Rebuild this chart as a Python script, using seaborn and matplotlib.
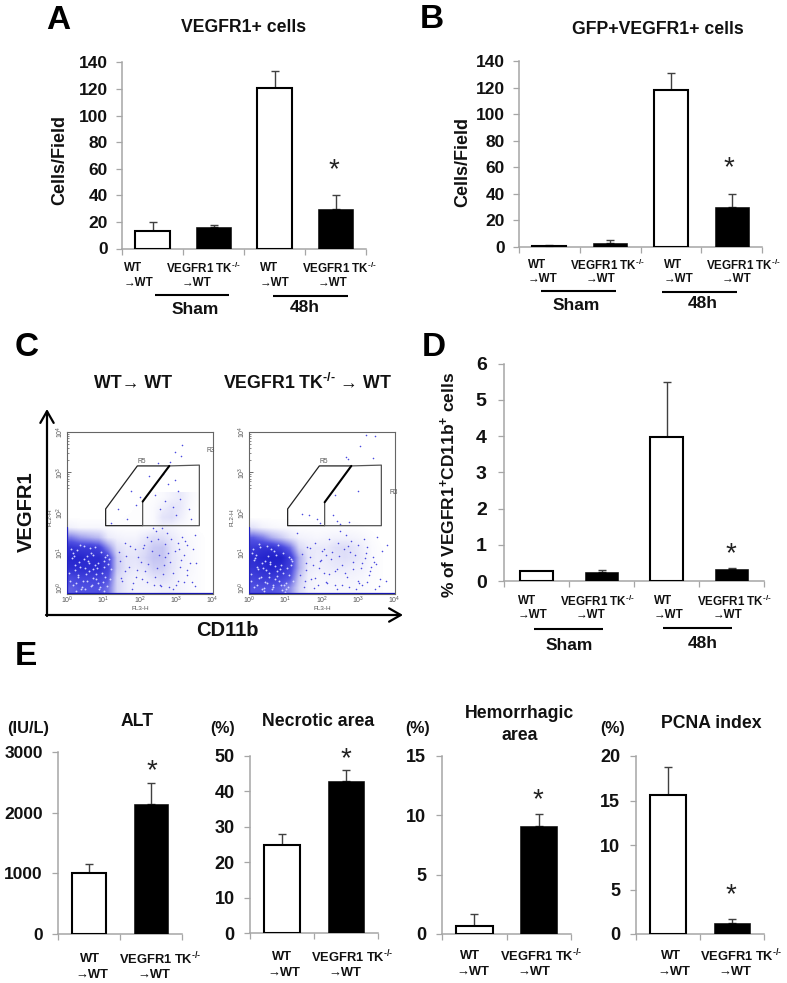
import numpy as np
import pandas as pd
import seaborn as sns
import matplotlib
matplotlib.use("Agg")
import matplotlib.pyplot as plt
from matplotlib.colors import LinearSegmentedColormap

sns.set_theme(style="white")
plt.rcParams["font.family"] = ["Liberation Sans", "DejaVu Sans"]
plt.rcParams["mathtext.fontset"] = "custom"
plt.rcParams["mathtext.rm"] = "Liberation Sans:bold"
plt.rcParams["mathtext.bf"] = "Liberation Sans:bold"
plt.rcParams["mathtext.default"] = "rm"

W, H = 787, 983
GRAY = "#a6a6a6"
ERR = "#404040"

groups4 = ["WT Sham", "KO Sham", "WT 48h", "KO 48h"]
groups2 = ["WT", "KO"]
colors4 = ["white", "black", "white", "black"]
colors2 = ["white", "black"]

a_vals = [12.8, 16, 121, 30]
a_tops = [20, 18, 133.5, 40]
b_vals = [1, 3, 118, 30]
b_tops = [1.3, 5, 131, 40]
d_vals = [0.27, 0.25, 3.97, 0.33]
d_tops = [0.27, 0.3, 5.5, 0.35]
alt_vals = [1000, 2140]
alt_tops = [1150, 2490]
nec_vals = [25, 43]
nec_tops = [28, 46]
hem_vals = [0.7, 9.1]
hem_tops = [1.65, 10.15]
pcna_vals = [15.6, 1.2]
pcna_tops = [18.8, 1.65]

cat_ko = r"VEGFR1 TK$^{\text{-/-}}$"

# Flow density, 16 columns by 10 rows: 0.25 decade cells, bottom row first
left_density = [
    [.55, .60, .60, .60, .50, .15, .08, .05, .05, .05, .06, .06, .04, .02, .01, 0],
    [.65, .70, .70, .70, .60, .15, .08, .05, .06, .10, .12, .08, .04, .02, .01, 0],
    [.85, .85, .85, .85, .70, .20, .10, .08, .10, .18, .18, .10, .05, .03, .01, 0],
    [.90, .90, .85, .85, .70, .20, .10, .10, .15, .22, .22, .10, .06, .03, .01, 0],
    [.80, .75, .75, .70, .40, .12, .08, .08, .12, .20, .22, .10, .05, .03, .01, 0],
    [.45, .35, .30, .25, .08, .05, .04, .04, .08, .13, .12, .08, .04, .02, .01, 0],
    [.05, .03, .03, .03, .02, .01, .01, .01, .01, .02, .06, .04, .02, .01, 0, 0],
    [0, 0, 0, 0, 0, 0, .005, .005, .005, .02, .10, .12, .06, .01, 0, 0],
    [0, 0, 0, 0, 0, 0, 0, .005, .005, .02, .06, .10, .08, .02, 0, 0],
    [0, 0, 0, 0, 0, 0, 0, 0, 0, .01, .02, .05, .08, .03, 0, 0],
]
right_density = [
    [.60, .60, .60, .55, .40, .15, .05, .03, .03, .03, .03, .03, .02, .01, .005, 0],
    [.70, .75, .75, .70, .60, .20, .06, .03, .04, .04, .04, .04, .03, .01, .005, 0],
    [.80, .85, .90, .85, .70, .30, .08, .06, .07, .08, .08, .06, .05, .02, .005, 0],
    [.85, .90, .95, .95, .75, .30, .10, .07, .08, .10, .12, .10, .07, .02, .005, 0],
    [.75, .80, .80, .70, .50, .15, .08, .08, .08, .12, .13, .10, .06, .02, .005, 0],
    [.55, .45, .30, .20, .10, .05, .04, .03, .04, .05, .05, .04, .03, .01, 0, 0],
    [.10, .05, .03, .02, .02, .01, .01, .01, .01, .01, .01, .01, .005, 0, 0, 0],
    [0] * 16,
    [0] * 16,
    [0] * 16,
]
left_px = [3.15, 2.96, 2.83, 3.12, 2.49, 2.62, 2.78, 2.26, 2.4, 3.05, 3.1, 2.9, 2.7, 2.55, 3.0,
           1.4, 1.65, 1.9, 1.2, 1.75, 2.0, 2.95, 3.35, 3.4, 3.5, 3.25, 2.2, 2.35, 2.45, 2.6,
           2.75, 2.85, 3.05, 3.15, 3.3, 1.6, 1.85, 2.1, 2.3, 2.5, 2.7, 2.95, 3.2, 3.45,
           1.45, 1.7, 1.95, 2.15, 2.4, 2.65, 2.9, 3.1, 3.3, 3.55, 1.5, 1.8, 2.05, 2.55, 2.8, 3.05,
           1.42, 1.58, 1.72, 1.88, 2.02, 2.18, 2.32, 2.48, 2.58, 2.68, 2.82, 2.98, 3.12, 3.28, 3.42,
           1.48, 1.62, 1.78, 1.92, 2.08, 2.22, 2.38, 2.52, 2.62, 2.78, 2.92, 3.08, 3.22, 3.38, 3.52]
left_py = [3.69, 3.5, 3.25, 3.4, 3.23, 2.95, 2.7, 2.9, 2.45, 2.55, 2.35, 2.15, 2.3, 2.1, 1.95,
           2.1, 1.85, 2.2, 1.75, 2.55, 2.4, 2.8, 2.1, 1.85, 1.45, 1.3, 1.4, 1.62, 1.55, 1.62,
           1.5, 1.35, 1.25, 1.4, 1.2, 1.25, 1.1, 1.2, 1.3, 1.35, .9, 1.05, .95, 1.1,
           .8, .65, .9, .55, .4, .7, .5, .65, .45, .75, .3, .25, .35, .2, .15, .3,
           1.02, .55, 1.18, .42, .78, .28, 1.05, .62, .18, 1.22, .78, .22, .82, .58, .28,
           .38, .92, .12, .58, 1.12, .72, .2, .95, .48, 1.0, .1, 1.1, .28, .75, .18]
right_px = [3.2, 3.45, 3.05, 2.65, 2.72, 3.4, 2.35, 1.45, 1.65, 1.85, 1.95, 2.3, 2.4, 2.5, 2.75,
            3.0, 1.3, 2.5, 2.65, 3.15, 3.5, 3.8, 2.2, 2.45, 2.8, 3.0, 3.25, 1.6, 1.8, 2.0,
            2.1, 2.6, 2.9, 3.2, 3.4, 3.65, 1.55, 1.75, 1.95, 2.25, 2.55, 2.85, 3.1, 3.35,
            1.4, 1.7, 2.05, 2.35, 2.7, 3.0, 3.3, 3.6, 1.5, 1.9, 2.15, 2.75, 3.1, 3.45, 3.75, 2.4,
            1.44, 1.56, 1.68, 1.82, 1.98, 2.12, 2.28, 2.42, 2.56, 2.72, 2.86, 3.02, 3.18, 3.32, 3.48,
            1.52, 1.66, 1.78, 1.92, 2.06, 2.2, 2.36, 2.48, 2.62, 2.78, 2.94, 3.08, 3.24, 3.42, 3.58]
right_py = [3.92, 3.9, 3.65, 3.37, 3.33, 3.35, 2.45, 1.98, 1.95, 1.85, 1.75, 1.95, 1.8, 1.72, 1.78,
            2.55, 1.5, 1.55, 1.45, 1.35, 1.4, 1.2, 1.35, 1.25, 1.3, 1.2, 1.15, 1.15, 1.25, 1.05,
            .95, 1.1, .95, 1.0, .9, 1.05, .75, .7, .8, .85, .7, .6, .75, .65,
            .45, .35, .5, .55, .4, .3, .45, .35, .15, .2, .25, .15, .2, .1, .3, .1,
            .98, .58, 1.12, .38, .82, .28, 1.02, .6, .22, 1.18, .78, .25, .88, .55, .72,
            .32, .9, .14, .62, 1.1, .48, .2, .92, .52, 1.02, .12, .62, .28, .78, .18]
left_speck_x = [.15, .3, .55, .7, .9, 1.05, .2, .45, .65, .85, 1.1, .1, .35, .6, .8, 1.0, 1.2, .25, .5, .75,
                .08, .22, .38, .52, .68, .82, .98, 1.12, .18, .32, .48, .62, .78, .92, 1.08, .12, .28, .42, .58, .72,
                .88, 1.02, 1.18, .05, .35, .65, .95, .15, .45, .75, 1.05, .25, .55, .85, 1.15, .4, .7, 1.0, .3, .6]
left_speck_y = [.2, .45, .3, .6, .15, .4, .7, .85, 1.0, .75, .95, 1.1, 1.2, .55, .35, .8, .6, .05, .1, 1.15,
                .32, .58, .12, .48, .22, .62, .28, .72, .92, .78, .62, 1.12, .48, 1.02, .18, .88, 1.08, .3, .8, .38,
                .1, .65, .35, .5, .66, .18, .52, 1.0, 1.18, .7, .9, .25, .92, .25, .85, .15, .95, .05, .4, .75]
right_speck_x = [.12, .32, .5, .75, .95, 1.1, .2, .42, .68, .88, 1.15, .08, .3, .55, .82, 1.02, .18, .4, .62, .78,
                 .06, .24, .36, .54, .66, .84, 1.0, 1.14, .16, .34, .46, .6, .76, .94, 1.06, .14, .26, .44, .56, .7,
                 .9, 1.04, 1.2, .04, .38, .64, .92, .1, .48, .72, 1.08, .22, .52, .86, 1.18, .4, .74, .98, .28, .58]
right_speck_y = [.15, .4, .25, .55, .2, .45, .65, .8, 1.05, .7, .85, 1.0, 1.15, .5, .3, .1, .95, .05, .12, 1.2,
                 .3, .6, .1, .42, .2, .6, .25, .7, .88, .75, .58, 1.1, .44, 1.0, .16, .84, 1.22, .28, .78, .36,
                 .08, .62, .32, .48, .62, .16, .5, 1.1, 1.18, .68, .9, .22, .92, .22, .8, .14, .96, .04, .38, .72]


def axes_px(x0, y_bottom, x1, y_top):
    return fig.add_axes([x0 / W, 1 - y_bottom / H, (x1 - x0) / W, (y_bottom - y_top) / H])


def bar_panel(box, groups, vals, tops, colors, ymax, yticks, width, fs, pad=6):
    ax = axes_px(*box)
    df = pd.DataFrame({"group": groups, "value": vals})
    sns.barplot(data=df, x="group", y="value", hue="group", palette=colors, legend=False,
                errorbar=None, width=width, ax=ax, saturation=1, zorder=3)
    for patch, c in zip(ax.patches, colors):
        patch.set_edgecolor("black")
        patch.set_linewidth(1.5 if c == "white" else 0.4)
    ax.errorbar(range(len(vals)), vals, yerr=[np.zeros(len(vals)), np.array(tops) - np.array(vals)],
                fmt="none", ecolor=ERR, elinewidth=1.0, capsize=2.6, capthick=1.0, zorder=2)
    ax.set_xlim(-0.5, len(vals) - 0.5)
    ax.set_ylim(0, ymax)
    ax.set_yticks(yticks)
    ax.set_yticklabels([str(t) for t in yticks], fontsize=fs, fontweight="bold", color="#111111")
    ax.set_xticks(np.arange(len(vals) + 1) - 0.5)
    ax.set_xticklabels([])
    ax.set_xlabel("")
    ax.set_ylabel("")
    ax.tick_params(axis="y", left=True, length=4, width=0.9, color=GRAY, pad=pad)
    ax.tick_params(axis="x", bottom=True, length=4, width=0.9, color=GRAY)
    sns.despine(ax=ax)
    for s in ("left", "bottom"):
        ax.spines[s].set_color(GRAY)
        ax.spines[s].set_linewidth(1.1)
    ax.patch.set_alpha(0)
    return ax


fig = plt.figure(figsize=(W / 100, H / 100), dpi=100, facecolor="white")

bar_panel((122, 248.5, 366, 62.3), groups4, a_vals, a_tops, colors4, 140, range(0, 141, 20), 0.56, 12.5)
bar_panel((519, 247, 762, 61.3), groups4, b_vals, b_tops, colors4, 140, range(0, 141, 20), 0.56, 12.5)
bar_panel((504, 581, 764, 363.5), groups4, d_vals, d_tops, colors4, 6, range(0, 7), 0.52, 14, pad=8.5)
bar_panel((58, 934, 182, 752), groups2, alt_vals, alt_tops, colors2, 3000, [0, 1000, 2000, 3000], 0.55, 12.5, pad=7)
bar_panel((250, 933.3, 378, 755.7), groups2, nec_vals, nec_tops, colors2, 50, range(0, 51, 10), 0.57, 13, pad=7)
bar_panel((442, 934, 571, 756), groups2, hem_vals, hem_tops, colors2, 15, [0, 5, 10, 15], 0.57, 13, pad=7.5)
bar_panel((636, 934, 764, 756), groups2, pcna_vals, pcna_tops, colors2, 20, [0, 5, 10, 15, 20], 0.57, 13, pad=7.5)

cmap = LinearSegmentedColormap.from_list(
    "flow", [(0, "#ffffff"), (.25, "#bcbcf2"), (.6, "#5050e2"), (.9, "#2626ce"), (1, "#1c1cc4")])
FLOWGRAY = "#555555"


def flow_panel(box, density, px, py, sx, sy, r3_pos, r5_pos, notch):
    ax = axes_px(*box)
    ax.imshow(np.array(density), origin="lower", extent=(0, 4, 0, 2.5), cmap=cmap, vmin=0, vmax=1,
              aspect="auto", interpolation="bilinear", zorder=1)
    sns.scatterplot(x=px, y=py, s=1.3, color="#4a4ae0", linewidth=0, ax=ax, zorder=2)
    sns.scatterplot(x=sx, y=sy, s=1.8, color="#d4d6ff", linewidth=0, ax=ax, zorder=2)
    ax.plot([0, 4], [0.012, 0.012], color="#1515b0", lw=0.9, zorder=3)
    ax.plot([0.005, 0.005], [0, 1.65], color="#2020c0", lw=0.9, zorder=3)
    ax.set_xlim(0, 4)
    ax.set_ylim(0, 4)
    ax.set_xticks(range(5))
    ax.set_yticks(range(5))
    ax.set_xticklabels([f"$\\mathregular{{10^{i}}}$" for i in range(5)], fontsize=5, color=FLOWGRAY)
    ax.set_yticklabels([f"$\\mathregular{{10^{i}}}$" for i in range(5)], fontsize=5, color=FLOWGRAY,
                       rotation=90, va="center")
    ax.get_yticklabels()[0].set_va("bottom")
    minor = [k + np.log10(m) for k in range(4) for m in range(2, 10)]
    ax.set_xticks(minor, minor=True)
    ax.set_yticks(minor, minor=True)
    ax.tick_params(which="major", direction="in", length=3, width=0.5, color="#333333", pad=1,
                   bottom=True, left=True)
    ax.tick_params(which="minor", direction="in", length=1.5, width=0.4, color="#333333", bottom=True, left=True)
    for s in ax.spines.values():
        s.set_color("#666666")
        s.set_linewidth(0.8)
    r5x = [2.073, 1.055, 1.055, 1.927, 2.807]
    r5y = [1.68, 1.68, 2.095, 3.16, 3.16]
    r3x = [2.807, 3.633, 3.633, 2.073, 2.073]
    r3y = [3.16, 3.18, 1.68, 1.68, notch]
    ax.plot(r5x, r5y, color="#222222", lw=0.9, zorder=4)
    ax.plot(r3x, r3y, color="#555555", lw=0.9, zorder=4)
    ax.plot([2.073, 2.807], [notch, 3.16], color="black", lw=1.5, zorder=5)
    ax.text(*r3_pos, "R3", fontsize=4.8, color=FLOWGRAY, ha="left", va="center")
    ax.text(*r5_pos, "R5", fontsize=4.8, color=FLOWGRAY, ha="left", va="center")
    ax.text(2, -0.38, "FL3-H", fontsize=4.6, color=FLOWGRAY, ha="center", va="center")
    ax.text(-0.47, 1.9, "FL2-H", fontsize=4.6, color=FLOWGRAY, ha="center", va="center", rotation=90)


flow_panel((67.3, 593.5, 212.7, 432), left_density, left_px, left_py, left_speck_x, left_speck_y,
           (3.83, 3.55), (1.93, 3.28), 2.277)
flow_panel((249.3, 593.5, 394.7, 432), right_density, right_px, right_py, right_speck_x, right_speck_y,
           (3.85, 2.5), (1.93, 3.26), 2.26)

# Overlay in pixel coordinates for annotations
ov = fig.add_axes([0, 0, 1, 1], zorder=10)
ov.set_xlim(0, W)
ov.set_ylim(H, 0)
ov.axis("off")


def T(x, y, s, fs=12.5, ha="center", va="center", rot=0, weight="bold", color="#111111"):
    ov.text(x, y, s, fontsize=fs, ha=ha, va=va, rotation=rot, fontweight=weight, color=color)


for x, y, s in [(46, 29, "A"), (420, 28, "B"), (15, 356, "C"), (422, 356, "D"), (15, 665, "E")]:
    ov.text(x, y, s, fontsize=24, fontweight="bold", ha="left", va="baseline", color="black")

T(244, 28, "VEGFR1+ cells", 12.7)
T(658, 29, "GFP+VEGFR1+ cells", 12.7)
T(60, 160, "Cells/Field", 13, rot=90)
T(463, 162, "Cells/Field", 13, rot=90)
T(448, 485, r"% of VEGFR1$^{+}$CD11b$^{+}$ cells", 12.5, rot=90)


def star(x, y, em_pt=20):
    em = em_pt * 100 / 72
    ov.text(x, y + 0.42 * em, "*", fontsize=em_pt, ha="center", va="baseline", color="#222222")


for x, y in [(334, 166), (729, 164), (731, 550), (152, 767), (346, 755), (538, 796), (731, 891)]:
    star(x, y)


def cat4(xs, y1, y2, fs=8.4):
    for x, is_ko in zip(xs, [False, True, False, True]):
        T(x, y1, cat_ko if is_ko else "WT", fs, ha="left")
        T(x + (16 if is_ko else 0), y2, "→WT", fs, ha="left")


cat4([124, 166, 260, 302], 268, 283)
cat4([528, 570, 664, 706], 265, 279)
cat4([518, 560, 654, 697], 601, 615)


def cat2(wt_c, wt2_c, ko_l, ko2_l, y1, y2, fs=9.3):
    T(wt_c, y1, "WT", fs)
    T(wt2_c, y2, "→WT", fs)
    T(ko_l, y1, cat_ko, fs, ha="left")
    T(ko2_l, y2, "→WT", fs, ha="left")


cat2(90, 92, 119, 137, 959, 975)
cat2(282, 284, 311, 328, 957, 973)
cat2(470, 473, 500, 517, 956, 972)
cat2(671, 674, 700, 718, 956, 972)

for x0, x1, y in [(155, 229, 295), (273, 348, 296), (541, 616, 291), (662, 737, 292), (534, 603, 629), (663, 732, 628)]:
    ov.plot([x0, x1], [y, y], color="black", lw=1.5, solid_capstyle="butt")
for x, y, s in [(195, 309, "Sham"), (305, 308, "48h"), (576, 305, "Sham"), (703, 304, "48h"), (569, 645, "Sham"), (703, 643, "48h")]:
    T(x, y, s, 12.5)

T(133, 383, "WT→ WT", 12.8)
T(308, 383, r"VEGFR1 TK$^{\text{-/-}}$ → WT", 12.8)
T(26, 512, "VEGFR1", 14.5, rot=90)
T(227, 631, "CD11b", 14.5)
ov.annotate("", xy=(47, 409), xytext=(47, 616), arrowprops=dict(arrowstyle="->,head_length=0.7,head_width=0.4", lw=1.6, color="black", shrinkA=0, shrinkB=0))
ov.annotate("", xy=(403, 615), xytext=(46, 615), arrowprops=dict(arrowstyle="->,head_length=0.7,head_width=0.4", lw=1.6, color="black", shrinkA=0, shrinkB=0))

T(137, 722, "ALT", 12.7)
T(318, 722, "Necrotic area", 12.7)
T(520, 713, "Hemorrhagic", 12.7)
T(520, 735, "area", 12.7)
T(711, 723, "PCNA index", 12.7)
T(28, 729, "(IU/L)", 11.8)
T(223, 729, "(%)", 11.5)
T(418, 729, "(%)", 11.5)
T(613, 729, "(%)", 11.5)

fig.savefig("out.png", dpi=100, facecolor="white")
